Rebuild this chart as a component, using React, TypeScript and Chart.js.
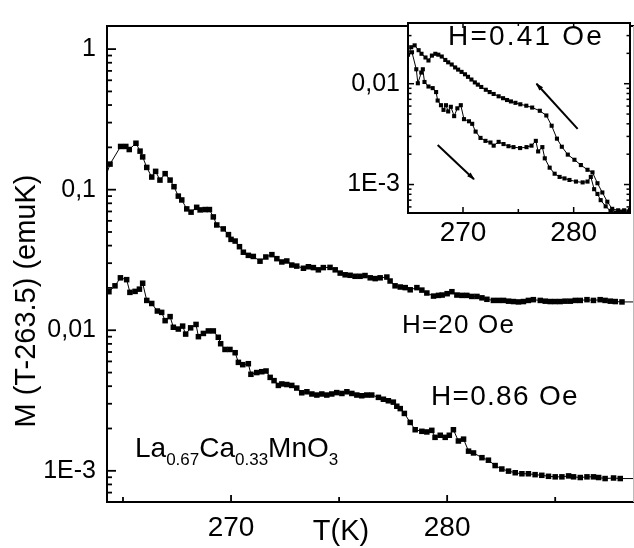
import React, { useEffect, useRef } from 'react';
import { Chart, registerables } from 'chart.js';

Chart.register(...registerables);

const FONT = '"Liberation Sans", Arial, Helvetica, sans-serif';

// ---- Main panel: H = 20 Oe ----
const t20 = [264.10, 264.40, 264.89, 265.13, 265.29, 265.60, 265.79, 265.91, 266.10, 266.33,
  266.51, 266.71, 266.95, 267.18, 267.36, 267.56, 267.72, 267.95, 268.15, 268.41,
  268.57, 268.80, 269.00, 269.18, 269.34, 269.64, 269.88, 270.00, 270.19, 270.39,
  270.57, 270.80, 271.03, 271.34, 271.61, 271.89, 272.12, 272.35, 272.58, 272.81,
  273.04, 273.35, 273.58, 273.81, 274.04, 274.27, 274.58, 274.82, 275.05, 275.28,
  275.51, 275.74, 275.97, 276.20, 276.44, 276.67, 276.90, 277.21, 277.36, 277.59,
  277.83, 278.06, 278.29, 278.60, 278.83, 279.06, 279.37, 279.60, 279.77, 280.00,
  280.22, 280.45, 280.68, 280.91, 281.14, 281.38, 281.61, 281.84, 282.14, 282.38,
  282.61, 282.84, 283.07, 283.30, 283.53, 283.76, 283.99, 284.31, 284.54, 284.77,
  285.00, 285.23, 285.46, 285.70, 285.93, 286.16, 286.47, 286.77, 287.08, 287.31,
  287.55, 287.78, 288.09, 289.0];
const m20 = [0.112, 0.152, 0.203, 0.203, 0.193, 0.214, 0.188, 0.171, 0.144, 0.123,
  0.135, 0.117, 0.130, 0.117, 0.105, 0.0900, 0.0845, 0.0730, 0.0692, 0.0749,
  0.0718, 0.0722, 0.0722, 0.0640, 0.0561, 0.0526, 0.0479, 0.0443, 0.0431, 0.0393,
  0.0359, 0.0341, 0.0335, 0.0310, 0.0332, 0.0345, 0.0323, 0.0306, 0.0311, 0.0291,
  0.0286, 0.0276, 0.0283, 0.0279, 0.0269, 0.0279, 0.0280, 0.0269, 0.0255, 0.0248,
  0.0246, 0.0242, 0.0242, 0.0245, 0.0236, 0.0233, 0.0236, 0.0239, 0.0224, 0.0207,
  0.0203, 0.0201, 0.0194, 0.0201, 0.0193, 0.0184, 0.0175, 0.0177, 0.0178, 0.0182,
  0.0188, 0.0178, 0.0177, 0.0177, 0.0174, 0.0174, 0.0170, 0.0166, 0.0163, 0.0163,
  0.0163, 0.0161, 0.0160, 0.0159, 0.0160, 0.0163, 0.0165, 0.0163, 0.0161, 0.0160,
  0.0160, 0.0160, 0.0161, 0.0161, 0.0163, 0.0163, 0.0165, 0.0163, 0.0165, 0.0163,
  0.0161, 0.0160, 0.0159, 0.0159];

// ---- Main panel: H = 0.86 Oe ----
const t086 = [264.10, 264.35, 264.63, 264.88, 265.17, 265.32, 265.56, 265.76, 265.91, 266.10,
  266.33, 266.59, 266.79, 266.95, 267.18, 267.33, 267.56, 267.76, 267.90, 268.13,
  268.38, 268.49, 268.72, 268.95, 269.18, 269.41, 269.52, 269.72, 269.95, 270.19,
  270.34, 270.54, 270.80, 270.92, 271.19, 271.42, 271.62, 271.81, 271.99, 272.19,
  272.35, 272.58, 272.81, 273.04, 273.27, 273.51, 273.74, 273.97, 274.20, 274.43,
  274.66, 274.89, 275.13, 275.36, 275.59, 275.82, 276.05, 276.28, 276.51, 276.82,
  277.05, 277.28, 277.51, 277.67, 277.83, 278.02, 278.29, 278.52, 278.83, 279.06,
  279.29, 279.44, 279.68, 279.91, 280.10, 280.29, 280.52, 280.76, 280.99, 281.22,
  281.61, 281.91, 282.22, 282.53, 282.84, 283.15, 283.46, 283.76, 284.07, 284.38,
  284.69, 285.00, 285.31, 285.62, 285.85, 286.16, 286.47, 286.77, 287.01, 287.31,
  287.70, 288.01, 289.0];
const m086 = [0.0165, 0.0188, 0.0207, 0.0236, 0.0229, 0.0186, 0.0189, 0.0196, 0.0216, 0.0163,
  0.0155, 0.0137, 0.0134, 0.0117, 0.0125, 0.0105, 0.0102, 0.0107, 0.00939, 0.0104,
  0.0110, 0.00900, 0.00949, 0.00989, 0.00989, 0.00891, 0.00802, 0.00730, 0.00730, 0.00692,
  0.00591, 0.00569, 0.00578, 0.00486, 0.00500, 0.00507, 0.00513, 0.00462, 0.00438, 0.00405,
  0.00415, 0.00411, 0.00405, 0.00388, 0.00359, 0.00365, 0.00352, 0.00346, 0.00352, 0.00346,
  0.00352, 0.00360, 0.00355, 0.00365, 0.00355, 0.00346, 0.00342, 0.00346, 0.00346, 0.00333,
  0.00323, 0.00315, 0.00308, 0.00288, 0.00277, 0.00256, 0.00221, 0.00196, 0.00191, 0.00189,
  0.00194, 0.00173, 0.00179, 0.00173, 0.00179, 0.00196, 0.00163, 0.00168, 0.00138, 0.00134,
  0.00124, 0.00119, 0.00109, 0.00103, 0.000995, 0.000969, 0.000953, 0.000953, 0.000939, 0.000929,
  0.000914, 0.000906, 0.000906, 0.000920, 0.000906, 0.000896, 0.000906, 0.000906, 0.000896, 0.000881,
  0.000889, 0.000881, 0.000881];

// ---- Inset: H = 0.41 Oe, cooling branch (upper) ----
const tCool = [265.03, 265.32, 265.63, 265.99, 266.25, 266.61, 266.88, 267.19, 267.50, 267.77,
  268.08, 268.40, 268.66, 268.98, 269.29, 269.56, 269.87, 270.18, 270.45, 270.76,
  271.07, 271.34, 271.65, 272.06, 272.41, 272.77, 273.22, 273.62, 273.98, 274.33,
  274.74, 275.18, 275.72, 276.25, 276.94, 277.53, 278.01, 278.49, 278.93, 279.47,
  280.07, 280.65, 281.25, 281.70, 282.15, 282.59, 283.04, 283.48, 284.02, 284.56, 285.09];
const mCool = [0.0194, 0.0230, 0.0240, 0.0215, 0.0198, 0.0182, 0.0170, 0.0190, 0.0198, 0.0194,
  0.0186, 0.0172, 0.0163, 0.0155, 0.0145, 0.0138, 0.0131, 0.0124, 0.0117, 0.0110,
  0.0103, 0.00979, 0.00928, 0.00871, 0.00826, 0.00791, 0.00750, 0.00718, 0.00689, 0.00667,
  0.00646, 0.00625, 0.00605, 0.00580, 0.00539, 0.00484, 0.00383, 0.00285, 0.00237, 0.00198,
  0.00176, 0.00156, 0.00140, 0.00132, 0.00103, 0.000834, 0.000675, 0.000574, 0.000555, 0.000555, 0.000562];

// ---- Inset: H = 0.41 Oe, warming branch (lower) ----
const tWarm = [265.39, 265.78, 265.92, 266.23, 266.37, 266.52, 266.88, 267.26, 267.57, 267.71,
  268.01, 268.24, 268.46, 268.66, 268.90, 269.20, 269.49, 269.80, 270.09, 270.54,
  270.83, 271.14, 271.58, 272.03, 272.48, 272.77, 273.22, 273.66, 274.11, 274.56,
  275.16, 275.74, 276.19, 276.58, 276.79, 277.17, 277.39, 277.83, 278.28, 278.73,
  279.17, 279.62, 280.21, 280.81, 281.25, 281.55, 281.85, 282.15, 282.44, 282.89,
  283.33, 283.78, 284.38, 284.98];
const mWarm = [0.0205, 0.0139, 0.0101, 0.0129, 0.0139, 0.0104, 0.00938, 0.00904, 0.00826, 0.00681,
  0.00612, 0.00550, 0.00612, 0.00531, 0.00590, 0.00477, 0.00570, 0.00612, 0.00445, 0.00424,
  0.00400, 0.00335, 0.00290, 0.00271, 0.00261, 0.00243, 0.00265, 0.00252, 0.00240, 0.00235,
  0.00230, 0.00235, 0.00243, 0.00271, 0.00213, 0.00235, 0.00182, 0.00147, 0.00128, 0.00119,
  0.00115, 0.00111, 0.00107, 0.00105, 0.00107, 0.00119, 0.000899, 0.000807, 0.000700, 0.000608,
  0.000547, 0.000527, 0.000538, 0.000538];

// ---- Axes ----
const mainXRange = [264.26, 288.6];
const mainYRange = [6.23e-4, 1.46];
const mainXMajor = [270, 280];
const mainXMinor = [265, 275, 285];
const mainYTicks = [0.001, 0.01, 0.1, 1];
const mainYLabels = ['1E-3', '0,01', '0,1', '1'];

const insetXRange = [265.03, 285.09];
const insetYRange = [5.22e-4, 0.04];
const insetXMajor = [270, 280];
const insetXMinor = [275];
const insetYTicks = [0.001, 0.01];
const insetYLabels = ['1E-3', '0,01'];

// arrows in the inset: [tail, head] in data units
const arrowCool = [[280.36, 0.00357], [276.64, 0.0100]];
const arrowWarm = [[267.71, 0.00247], [270.99, 0.00113]];

const yTitle = 'M (T-263.5) (emuK)';
const xTitle = 'T(K)';
const label20 = 'H=20 Oe';
const label086 = 'H=0.86 Oe';
const label041 = 'H=0.41 Oe';

function zip(t: number[], m: number[]) {
  return t.map((x, i) => ({ x, y: m[i] }));
}

function drawLogTicks(ctx: CanvasRenderingContext2D, scale: any, x: number, dir: number, min: number, max: number, major: number, minor: number) {
  const e0 = Math.floor(Math.log10(min));
  const e1 = Math.ceil(Math.log10(max));
  for (let e = e0; e <= e1; e++) {
    for (let k = 1; k <= 9; k++) {
      const v = k * Math.pow(10, e);
      if (v < min || v > max) continue;
      const py = scale.getPixelForValue(v);
      const len = k === 1 ? major : minor;
      ctx.beginPath();
      ctx.moveTo(x, py);
      ctx.lineTo(x + dir * len, py);
      ctx.stroke();
    }
  }
}

function drawXTicks(ctx: CanvasRenderingContext2D, scale: any, y: number, dir: number, majors: number[], minors: number[], major: number, minor: number) {
  const all = majors.map((v) => [v, major]).concat(minors.map((v) => [v, minor]));
  for (const [v, len] of all) {
    const px = scale.getPixelForValue(v);
    ctx.beginPath();
    ctx.moveTo(px, y);
    ctx.lineTo(px, y + dir * len);
    ctx.stroke();
  }
}

function spacedText(ctx: CanvasRenderingContext2D, s: string, x: number, y: number, size: number, spacing: number) {
  ctx.font = `${size}px ${FONT}`;
  (ctx as any).letterSpacing = `${spacing}px`;
  ctx.fillText(s, x, y);
  (ctx as any).letterSpacing = '0px';
}

const mainDeco = {
  id: 'mainDeco',
  beforeDraw(chart: any) {
    const ctx = chart.ctx;
    ctx.save();
    ctx.fillStyle = '#fff';
    ctx.fillRect(0, 0, chart.width, chart.height);
    ctx.restore();
  },
  afterDraw(chart: any) {
    const { ctx, chartArea: a } = chart;
    const xs = chart.scales.x;
    const ys = chart.scales.y;
    ctx.save();
    ctx.strokeStyle = '#000';
    ctx.lineWidth = 2;
    ctx.beginPath();
    ctx.moveTo(a.right + 1, a.top);
    ctx.lineTo(a.left, a.top);
    ctx.lineTo(a.left, a.bottom);
    ctx.lineTo(a.right + 1, a.bottom);
    ctx.stroke();
    ctx.strokeStyle = '#bbb';
    ctx.lineWidth = 1;
    ctx.beginPath();
    ctx.moveTo(a.right + 0.5, a.top);
    ctx.lineTo(a.right + 0.5, a.bottom);
    ctx.stroke();

    ctx.strokeStyle = '#000';
    ctx.lineWidth = 1.8;
    drawLogTicks(ctx, ys, a.left, 1, mainYRange[0], mainYRange[1], 9, 5);
    drawXTicks(ctx, xs, a.bottom, -1, mainXMajor, mainXMinor, 7, 5);

    ctx.fillStyle = '#000';
    ctx.textAlign = 'left';
    ctx.textBaseline = 'alphabetic';
    spacedText(ctx, label20, 402, 333, 26, 1.2);
    spacedText(ctx, label086, 431, 405, 28, 1.3);

    // formula with subscripts
    let x = 135;
    const base = 457;
    const parts: [string, boolean][] = [['La', false], ['0.67', true], ['Ca', false], ['0.33', true], ['MnO', false], ['3', true]];
    for (const [s, sub] of parts) {
      ctx.font = `${sub ? 17 : 28}px ${FONT}`;
      ctx.fillText(s, x, sub ? base + 8 : base);
      x += ctx.measureText(s).width;
    }

    // x title
    ctx.font = `29px ${FONT}`;
    ctx.textAlign = 'center';
    ctx.fillText(xTitle, 341, 540);

    // y title
    ctx.save();
    ctx.translate(35, 301);
    ctx.rotate(-Math.PI / 2);
    ctx.textAlign = 'center';
    ctx.textBaseline = 'alphabetic';
    ctx.font = `29px ${FONT}`;
    ctx.fillText(yTitle, 0, 0);
    ctx.restore();
    ctx.restore();
  },
};

function drawArrow(ctx: CanvasRenderingContext2D, xs: any, ys: any, pts: number[][]) {
  const x0 = xs.getPixelForValue(pts[0][0]);
  const y0 = ys.getPixelForValue(pts[0][1]);
  const x1 = xs.getPixelForValue(pts[1][0]);
  const y1 = ys.getPixelForValue(pts[1][1]);
  ctx.beginPath();
  ctx.moveTo(x0, y0);
  ctx.lineTo(x1, y1);
  ctx.stroke();
  const ang = Math.atan2(y1 - y0, x1 - x0);
  const L = 7, W = 2.5;
  ctx.beginPath();
  ctx.moveTo(x1 + Math.cos(ang) * 1, y1 + Math.sin(ang) * 1);
  ctx.lineTo(x1 - Math.cos(ang) * L - Math.sin(ang) * W, y1 - Math.sin(ang) * L + Math.cos(ang) * W);
  ctx.lineTo(x1 - Math.cos(ang) * L + Math.sin(ang) * W, y1 - Math.sin(ang) * L - Math.cos(ang) * W);
  ctx.closePath();
  ctx.fill();
}

const insetDeco = {
  id: 'insetDeco',
  beforeDraw(chart: any) {
    const { ctx, chartArea: a } = chart;
    ctx.save();
    ctx.fillStyle = '#fff';
    ctx.fillRect(a.left, a.top, a.right - a.left, a.bottom - a.top);
    ctx.restore();
  },
  afterDraw(chart: any) {
    const { ctx, chartArea: a } = chart;
    const xs = chart.scales.x;
    const ys = chart.scales.y;
    ctx.save();
    ctx.strokeStyle = '#000';
    ctx.lineWidth = 2;
    ctx.strokeRect(a.left, a.top, a.right - a.left, a.bottom - a.top);
    ctx.lineWidth = 1.5;
    drawLogTicks(ctx, ys, a.left, 1, insetYRange[0], insetYRange[1], 6, 3.5);
    drawLogTicks(ctx, ys, a.right, -1, insetYRange[0], insetYRange[1], 6, 3.5);
    drawXTicks(ctx, xs, a.bottom, -1, insetXMajor, insetXMinor, 6, 4);
    drawXTicks(ctx, xs, a.top, 1, insetXMajor, insetXMinor, 5, 3);

    ctx.fillStyle = '#000';
    ctx.lineWidth = 2;
    drawArrow(ctx, xs, ys, arrowCool);
    drawArrow(ctx, xs, ys, arrowWarm);

    ctx.textAlign = 'left';
    ctx.textBaseline = 'alphabetic';
    spacedText(ctx, label041, 118, 45, 28, 2.2);
    ctx.restore();
  },
};

function seriesStyle(r: number, range: number[]) {
  return {
    borderColor: '#000',
    backgroundColor: '#000',
    borderWidth: 1,
    pointStyle: 'rect' as const,
    pointRadius: (c: any) => (c.raw && (c.raw.x < range[0] || c.raw.x > range[1]) ? 0 : r),
    pointBorderWidth: 0,
    pointBackgroundColor: '#000',
    tension: 0,
    fill: false,
  };
}

export default function App() {
  const mainRef = useRef<HTMLCanvasElement>(null);
  const insetRef = useRef<HTMLCanvasElement>(null);

  useEffect(() => {
    const main = new Chart(mainRef.current as HTMLCanvasElement, {
      type: 'line',
      data: {
        datasets: [
          { data: zip(t20, m20), ...seriesStyle(3.9, mainXRange) } as any,
          { data: zip(t086, m086), ...seriesStyle(3.9, mainXRange) } as any,
        ],
      },
      options: {
        responsive: false,
        animation: false,
        events: [],
        layout: { padding: { top: 10, right: 1, left: 0, bottom: 0 } },
        plugins: { legend: { display: false }, tooltip: { enabled: false } },
        scales: {
          x: {
            type: 'linear',
            min: mainXRange[0],
            max: mainXRange[1],
            grid: { display: false, drawTicks: false },
            border: { display: false },
            afterBuildTicks: (s: any) => { s.ticks = mainXMajor.map((v) => ({ value: v })); },
            afterFit: (s: any) => { s.height = 46; },
            ticks: {
              autoSkip: false, maxRotation: 0, padding: 9, color: '#000',
              font: { family: FONT, size: 28 },
              callback: (v: any) => String(v),
            },
          },
          y: {
            type: 'logarithmic',
            min: mainYRange[0],
            max: mainYRange[1],
            grid: { display: false, drawTicks: false },
            border: { display: false },
            afterBuildTicks: (s: any) => { s.ticks = mainYTicks.map((v) => ({ value: v })); },
            afterFit: (s: any) => { s.width = 107; },
            ticks: {
              autoSkip: false, padding: 11, color: '#000',
              font: { family: FONT, size: 25 },
              callback: (_v: any, i: number) => mainYLabels[i],
            },
          },
        },
      } as any,
      plugins: [mainDeco],
    });

    const inset = new Chart(insetRef.current as HTMLCanvasElement, {
      type: 'line',
      data: {
        datasets: [
          { data: zip(tCool, mCool), ...seriesStyle(2.9, insetXRange) } as any,
          { data: zip(tWarm, mWarm), ...seriesStyle(2.9, insetXRange) } as any,
        ],
      },
      options: {
        responsive: false,
        animation: false,
        events: [],
        layout: { padding: { top: 10, right: 1, left: 0, bottom: 0 } },
        plugins: { legend: { display: false }, tooltip: { enabled: false } },
        scales: {
          x: {
            type: 'linear',
            min: insetXRange[0],
            max: insetXRange[1],
            grid: { display: false, drawTicks: false },
            border: { display: false },
            afterBuildTicks: (s: any) => { s.ticks = insetXMajor.map((v) => ({ value: v })); },
            afterFit: (s: any) => { s.height = 37; },
            ticks: {
              autoSkip: false, maxRotation: 0, padding: 3, color: '#000',
              font: { family: FONT, size: 28 },
              callback: (v: any) => String(v),
            },
          },
          y: {
            type: 'logarithmic',
            min: insetYRange[0],
            max: insetYRange[1],
            grid: { display: false, drawTicks: false },
            border: { display: false },
            afterBuildTicks: (s: any) => { s.ticks = insetYTicks.map((v) => ({ value: v })); },
            afterFit: (s: any) => { s.width = 78; },
            ticks: {
              autoSkip: false, padding: 8, color: '#000',
              font: { family: FONT, size: 25 },
              callback: (_v: any, i: number) => insetYLabels[i],
            },
          },
        },
      } as any,
      plugins: [insetDeco],
    });

    return () => {
      main.destroy();
      inset.destroy();
    };
  }, []);

  return (
    <div style={{ position: 'fixed', left: 0, top: 0, width: 634, height: 548, background: '#fff' }}>
      <canvas ref={mainRef} width={634} height={548}
        style={{ position: 'absolute', left: 0, top: 0, width: 634, height: 548 }} />
      <canvas ref={insetRef} width={304} height={250}
        style={{ position: 'absolute', left: 330, top: 0, width: 304, height: 250 }} />
    </div>
  );
}
